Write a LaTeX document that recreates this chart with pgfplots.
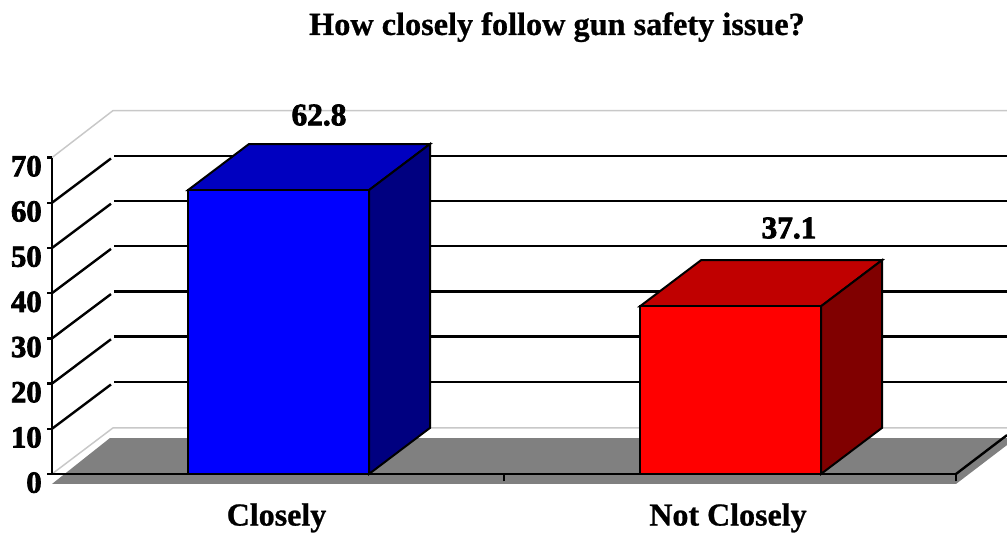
\documentclass[border=0pt]{standalone}
\usepackage{fontspec}
\setmainfont{Liberation Serif}[BoldFont={Liberation Serif Bold}]
\newfontfamily\heavy{Liberation Serif Bold}[FakeBold=2.4]
\newfontfamily\semi{Liberation Serif Bold}[FakeBold=0.8]
\usepackage{pgfplots}
\pgfplotsset{compat=1.18}
\definecolor{floorgray}{HTML}{808080}
\definecolor{wallgray}{HTML}{C8C8C8}
\definecolor{bluef}{HTML}{0000FF}
\definecolor{bluet}{HTML}{0000C0}
\definecolor{blues}{HTML}{000080}
\definecolor{redf}{HTML}{FF0000}
\definecolor{redt}{HTML}{C00000}
\definecolor{reds}{HTML}{800000}
\newcommand{\gridline}[1]{%
  \addplot[black,line width=1.8pt,forget plot] coordinates {(52,#1) (111,#1+9.8)};
  \addplot[black,line width=1.8pt,forget plot] coordinates {(114,#1+10.4) (1007,#1+10.4)};
}
\begin{document}
\begin{tikzpicture}
\begin{axis}[
  scale only axis,
  width=678pt, height=237.3pt,
  xmin=52, xmax=956, ymin=0, ymax=70,
  clip=false,
  axis x line*=bottom, axis y line*=left,
  axis on top,
  axis line style={black,line width=1.8pt,-},
  xtick={276.5,728},
  xticklabels={Closely,Not Closely},
  minor xtick={504,956},
  major x tick style={draw=none},
  minor x tick style={black,line width=1.4pt},
  minor tick length=5.5pt,
  ytick={0,10,...,70},
  major y tick style={black,line width=1.8pt},
  major tick length=3.5pt,
  tick align=outside,
  tick label style={font=\fontsize{23}{24}\selectfont\heavy},
  /pgf/number format/assume math mode=true,
  xticklabel style={yshift=-15pt,font=\fontsize{24}{24}\selectfont\semi},
  yticklabel style={yshift=-6.5pt,xshift=-0.7pt},
  title={How closely follow gun safety issue?},
  title style={at={(axis description cs:0.5586,1.387)},anchor=center,font=\fontsize{24.2}{26}\selectfont\semi},
]
% floor
\addplot[fill=floorgray,draw=none,forget plot] coordinates {(110,7.96) (1007,7.96) (1007,6.4) (956,-2.21) (52,-2.21)} --cycle;
\addplot[black,line width=1.8pt,forget plot] coordinates {(956,0) (1007,8.6)};
% light walls
\addplot[wallgray,line width=1.1pt,forget plot] coordinates {(52,70) (113,80.4) (1007,80.4)};
\addplot[wallgray,line width=1.1pt,forget plot] coordinates {(52,0) (113,10.2) (1007,10.2)};
\gridline{10}
\gridline{20}
\gridline{30}
\gridline{40}
\gridline{50}
\gridline{60}
% blue bar
\addplot[fill=bluet,draw=black,line width=1.5pt,forget plot] coordinates {(188,62.8) (369,62.8) (430,73.0) (249,73.0)} --cycle;
\addplot[fill=blues,draw=black,line width=1.5pt,forget plot] coordinates {(369,0) (430,10.2) (430,73.0) (369,62.8)} --cycle;
\addplot[fill=bluef,draw=black,line width=1.5pt,forget plot] coordinates {(188,0) (369,0) (369,62.8) (188,62.8)} --cycle;
% red bar
\addplot[fill=redt,draw=black,line width=1.5pt,forget plot] coordinates {(640,37.1) (821,37.1) (882,47.3) (701,47.3)} --cycle;
\addplot[fill=reds,draw=black,line width=1.5pt,forget plot] coordinates {(821,0) (882,10.2) (882,47.3) (821,37.1)} --cycle;
\addplot[fill=redf,draw=black,line width=1.5pt,forget plot] coordinates {(640,0) (821,0) (821,37.1) (640,37.1)} --cycle;
% value labels
\node[font=\fontsize{23.5}{24}\selectfont\heavy] at (axis cs:319,79.4) {62.8};
\node[font=\fontsize{23.5}{24}\selectfont\heavy] at (axis cs:789,54.4) {37.1};
\coordinate (bl) at (axis cs:0,-13.053);
\coordinate (tr) at (axis cs:1007,104.867);
\end{axis}
\pgfresetboundingbox
\useasboundingbox (bl) rectangle (tr);
\end{tikzpicture}
\end{document}
